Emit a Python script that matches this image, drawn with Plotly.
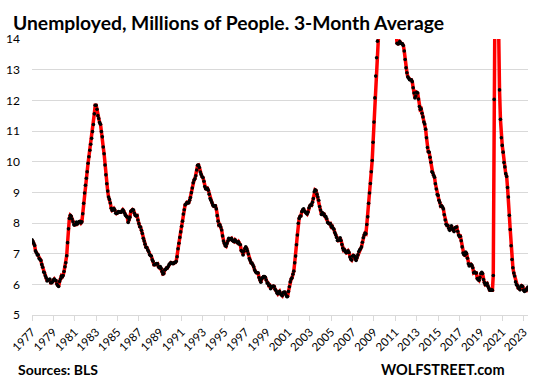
import pandas as pd
import plotly.graph_objects as go

# 3-month average of unemployed persons, millions, monthly from Jan 1977
start_month = "1977-01-01"
unemployed_3mo_avg = [
    7.45, 7.40, 7.34, 7.27, 7.09, 7.03, 6.96, 6.96, 6.84, 6.81, 6.78, 6.65,  # 1977
    6.56, 6.40, 6.38, 6.28, 6.21, 6.11, 6.15, 6.14, 6.17, 6.05, 6.05, 6.08,  # 1978
    6.14, 6.17, 6.13, 6.12, 6.01, 5.96, 5.93, 6.09, 6.17, 6.27, 6.24, 6.29,  # 1979
    6.42, 6.57, 6.70, 6.93, 7.36, 7.81, 8.15, 8.25, 8.22, 8.13, 8.04, 7.94,  # 1980
    7.94, 7.95, 8.03, 7.97, 8.01, 8.05, 8.05, 8.00, 8.04, 8.30, 8.64, 8.98,  # 1981
    9.23, 9.46, 9.67, 9.95, 10.16, 10.37, 10.57, 10.76, 10.98, 11.21, 11.56, 11.84,  # 1982
    11.84, 11.71, 11.50, 11.41, 11.28, 11.22, 10.98, 10.81, 10.48, 10.26, 9.89, 9.57,  # 1983
    9.28, 9.04, 8.85, 8.77, 8.65, 8.48, 8.41, 8.43, 8.47, 8.42, 8.32, 8.31,  # 1984
    8.33, 8.37, 8.36, 8.35, 8.35, 8.39, 8.43, 8.39, 8.32, 8.25, 8.22, 8.19,  # 1985
    8.02, 8.11, 8.19, 8.38, 8.40, 8.44, 8.42, 8.32, 8.25, 8.23, 8.24, 8.10,  # 1986
    7.98, 7.88, 7.87, 7.76, 7.66, 7.50, 7.41, 7.31, 7.21, 7.20, 7.12, 7.07,  # 1987
    6.97, 6.94, 6.92, 6.80, 6.75, 6.64, 6.64, 6.66, 6.68, 6.67, 6.57, 6.54,  # 1988
    6.58, 6.52, 6.42, 6.34, 6.35, 6.47, 6.48, 6.53, 6.53, 6.58, 6.65, 6.67,  # 1989
    6.71, 6.69, 6.67, 6.68, 6.71, 6.71, 6.75, 6.90, 7.16, 7.34, 7.53, 7.71,  # 1990
    7.89, 8.06, 8.29, 8.43, 8.59, 8.62, 8.67, 8.65, 8.66, 8.74, 8.83, 8.99,  # 1991
    9.14, 9.31, 9.40, 9.44, 9.54, 9.73, 9.88, 9.89, 9.81, 9.66, 9.58, 9.51,  # 1992
    9.48, 9.36, 9.19, 9.12, 9.11, 9.13, 9.07, 8.94, 8.80, 8.74, 8.67, 8.59,  # 1993
    8.55, 8.56, 8.56, 8.46, 8.24, 8.06, 7.93, 7.94, 7.87, 7.77, 7.58, 7.41,  # 1994
    7.33, 7.26, 7.24, 7.33, 7.41, 7.50, 7.46, 7.48, 7.50, 7.43, 7.41, 7.39,  # 1995
    7.45, 7.41, 7.37, 7.35, 7.39, 7.31, 7.29, 7.10, 7.07, 6.96, 7.08, 7.17,  # 1996
    7.22, 7.17, 7.09, 6.99, 6.84, 6.78, 6.70, 6.69, 6.64, 6.57, 6.47, 6.41,  # 1997
    6.38, 6.38, 6.37, 6.22, 6.14, 6.07, 6.17, 6.22, 6.25, 6.25, 6.23, 6.14,  # 1998
    6.04, 6.04, 5.96, 5.97, 5.86, 5.92, 5.92, 5.94, 5.93, 5.84, 5.80, 5.72,  # 1999
    5.69, 5.74, 5.77, 5.69, 5.66, 5.63, 5.72, 5.75, 5.74, 5.67, 5.60, 5.60,  # 2000
    5.77, 5.92, 6.08, 6.17, 6.21, 6.33, 6.43, 6.70, 6.92, 7.29, 7.61, 7.99,  # 2001
    8.15, 8.22, 8.23, 8.37, 8.43, 8.46, 8.39, 8.36, 8.32, 8.29, 8.36, 8.49,  # 2002
    8.56, 8.59, 8.58, 8.68, 8.80, 9.02, 9.08, 9.06, 8.94, 8.85, 8.74, 8.54,  # 2003
    8.42, 8.28, 8.34, 8.28, 8.29, 8.22, 8.21, 8.14, 8.02, 7.99, 7.97, 7.98,  # 2004
    7.88, 7.90, 7.83, 7.80, 7.69, 7.62, 7.53, 7.43, 7.43, 7.45, 7.52, 7.43,  # 2005
    7.30, 7.18, 7.11, 7.13, 7.06, 7.03, 7.05, 7.09, 7.04, 6.89, 6.82, 6.79,  # 2006
    6.92, 6.94, 6.92, 6.84, 6.78, 6.87, 6.96, 7.07, 7.13, 7.16, 7.22, 7.37,  # 2007
    7.52, 7.61, 7.67, 7.65, 7.95, 8.20, 8.64, 8.98, 9.29, 9.67, 10.04, 10.63,  # 2008
    11.29, 12.08, 12.79, 13.39, 13.93, 14.35, 14.60, 14.71, 14.81, 15.06, 15.19, 15.22,  # 2009
    15.12, 15.09, 15.12, 15.21, 15.13, 14.88, 14.61, 14.54, 14.58, 14.58, 14.73, 14.65,  # 2010
    14.48, 14.06, 13.86, 13.84, 13.85, 13.92, 13.86, 13.85, 13.84, 13.79, 13.61, 13.33,  # 2011
    13.06, 12.90, 12.77, 12.72, 12.67, 12.67, 12.67, 12.61, 12.41, 12.24, 12.08, 12.14,  # 2012
    12.26, 12.24, 12.04, 11.80, 11.70, 11.72, 11.58, 11.46, 11.29, 11.23, 11.06, 10.78,  # 2013
    10.46, 10.32, 10.31, 10.14, 9.98, 9.67, 9.64, 9.56, 9.49, 9.28, 9.11, 8.93,  # 2014
    8.90, 8.74, 8.67, 8.55, 8.56, 8.52, 8.46, 8.27, 8.10, 7.96, 7.92, 7.92,  # 2015
    7.83, 7.76, 7.81, 7.91, 7.82, 7.77, 7.72, 7.84, 7.86, 7.87, 7.73, 7.61,  # 2016
    7.56, 7.57, 7.42, 7.22, 7.02, 6.97, 6.95, 7.05, 7.00, 6.85, 6.67, 6.60,  # 2017
    6.63, 6.65, 6.62, 6.54, 6.38, 6.40, 6.37, 6.37, 6.19, 6.15, 6.13, 6.22,  # 2018
    6.35, 6.39, 6.35, 6.16, 6.06, 5.99, 6.02, 6.03, 5.94, 5.87, 5.81, 5.81,  # 2019
    5.82, 5.81, 6.29, 12.03, 17.08, 20.58, 18.31, 15.85, 14.13, 12.34, 11.38, 10.78,  # 2020
    10.53, 10.31, 9.97, 9.83, 9.61, 9.52, 9.16, 8.85, 8.25, 7.79, 7.26, 6.81,  # 2021
    6.54, 6.37, 6.27, 6.08, 5.99, 5.96, 5.88, 5.87, 5.82, 5.94, 5.95, 5.93,  # 2022
    5.81, 5.77, 5.81, 5.80, 5.87, 5.91,  # 2023
]
tick_years = list(range(1977, 2024, 2))
y_ticks = list(range(5, 15))

title_text = "Unemployed, Millions of People. 3-Month Average"
source_text = "Sources: BLS"
brand_text = "WOLFSTREET.com"

months = pd.date_range(start_month, periods=len(unemployed_3mo_avg), freq="MS")

fig = go.Figure()
fig.add_trace(go.Scatter(
    x=months, y=unemployed_3mo_avg, mode="lines+markers",
    line=dict(color="#FF0000", width=3.5),
    marker=dict(color="#000000", size=3.6),
    cliponaxis=True, showlegend=False, hoverinfo="skip",
))

fig.update_layout(
    width=535, height=383,
    margin=dict(l=30, r=6, t=39, b=68),
    paper_bgcolor="white", plot_bgcolor="white",
    font=dict(family="Lato, Calibri, sans-serif", color="#000000"),
    title=dict(text="<b>" + title_text + "</b>", xref="container", yref="container",
               x=13/535, xanchor="left", y=1-23/383, yanchor="middle",
               font=dict(size=19.3, color="#000000")),
    xaxis=dict(
        range=[months[0], months[-1]],
        tickvals=[pd.Timestamp(f"{y}-01-01") for y in tick_years],
        ticktext=[str(y) for y in tick_years],
        tickangle=-45, ticks="outside", ticklen=5, tickcolor="#d9d9d9",
        showgrid=False, showline=True, linecolor="#d9d9d9", linewidth=1,
        zeroline=False, tickfont=dict(size=11.5, color="#000000"),
    ),
    yaxis=dict(
        range=[5, 14], tickvals=y_ticks, showgrid=True, gridcolor="#d9d9d9",
        gridwidth=1, zeroline=False, showline=False, ticks="",
        ticklabelstandoff=11, tickfont=dict(size=12, color="#000000"),
    ),
    annotations=[
        dict(text="<b>" + source_text + "</b>", xref="paper", yref="paper",
             x=(14-30)/499, y=(315.5-370)/276, xanchor="left", yanchor="middle",
             showarrow=False, font=dict(size=14, color="#000000")),
        dict(text="<b>" + brand_text + "</b>", xref="paper", yref="paper",
             x=(508-30)/499, y=(315.5-370)/276, xanchor="right", yanchor="middle",
             showarrow=False, font=dict(size=14.5, color="#000000")),
    ],
)

fig.write_html("out.html", config={"displayModeBar": False},
               post_script="document.body.style.margin='0px';")
